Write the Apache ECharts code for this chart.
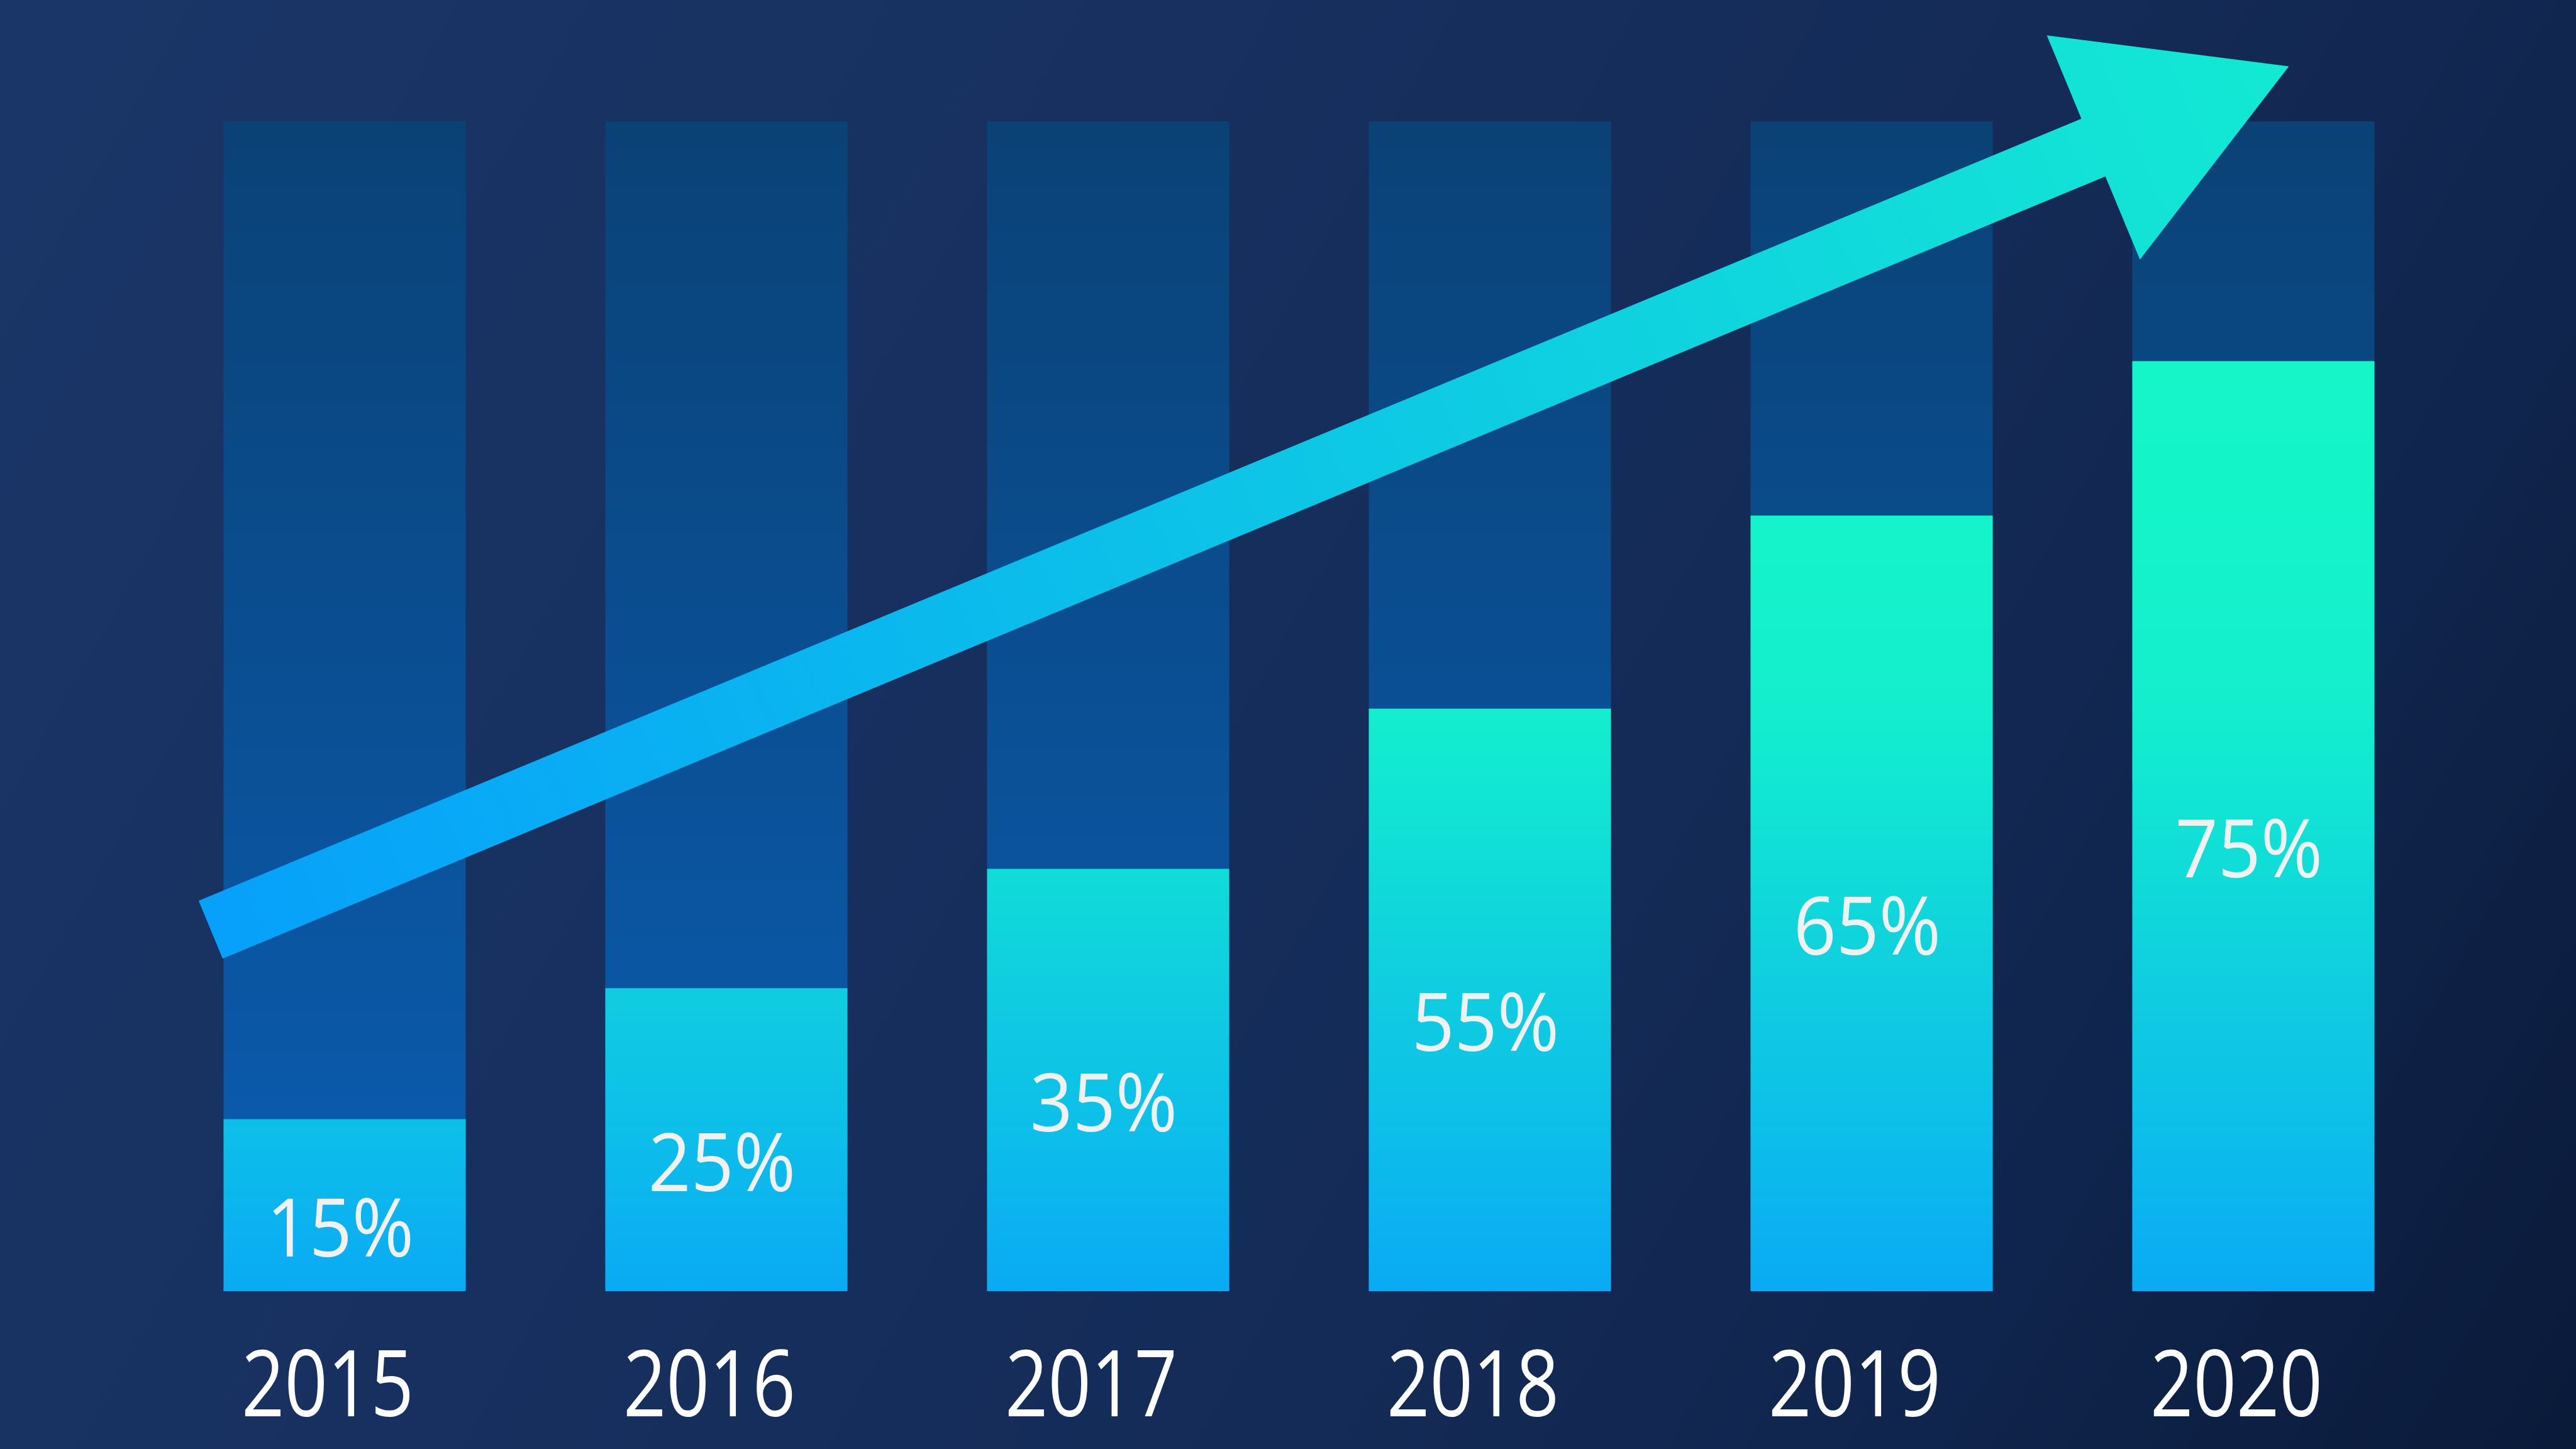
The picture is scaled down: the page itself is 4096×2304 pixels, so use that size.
<!DOCTYPE html>
<html><head><meta charset="utf-8">
<script src="https://cdn.jsdelivr.net/npm/echarts@6/dist/echarts.min.js"></script>
<style>html,body{margin:0;padding:0;overflow:hidden;background:#17305f}#c{width:4096px;height:2304px}</style>
</head><body><div id="c"></div>
<script>
// ---- data ----
const years = ['2015', '2016', '2017', '2018', '2019', '2020'];
const barValues = [14.7, 25.9, 36.1, 49.8, 66.3, 79.5];      // filled height of each bar (axis 0..100)
const valueLabels = ['15%', '25%', '35%', '55%', '65%', '75%']; // printed labels
const arrowStart = [-0.351, 30.9];   // [category position, value] of arrow tail centre
const arrowEnd = [5.093, 104.7];     // [category position, value] of arrow tip

const chart = echarts.init(document.getElementById('c'), null, { renderer: 'canvas', width: 4096, height: 2304 });
const LG = echarts.graphic.LinearGradient;
const FONT = '"Open Sans", "Noto Sans", sans-serif';

const option = {
  animation: false,
  backgroundColor: {
    type: 'linear', x: 0, y: 0, x2: 1, y2: 1,
    colorStops: [
      { offset: 0, color: '#1a3668' },
      { offset: 0.35, color: '#17305f' },
      { offset: 0.62, color: '#142b57' },
      { offset: 0.8, color: '#10254d' },
      { offset: 1, color: '#0a1a39' }
    ]
  },
  grid: { left: 244.5, width: 3642, top: 192.9, height: 1860.1 },
  xAxis: [
    {
      type: 'category', data: years,
      axisLine: { show: false }, axisTick: { show: false }, splitLine: { show: false },
      axisLabel: { show: false }
    },
    { type: 'value', min: -0.5, max: 5.5, show: false }
  ],
  yAxis: { type: 'value', min: 0, max: 100, show: false, splitLine: { show: false } },
  series: [
    {
      type: 'bar', data: barValues, barWidth: 385, z: 2,
      showBackground: true,
      backgroundStyle: {
        color: new LG(0, 0, 0, 1, [
          { offset: 0, color: '#0a4276' },
          { offset: 1, color: '#0b5db3' }
        ])
      },
      itemStyle: {
        color: new LG(0, 574, 0, 2053, [
          { offset: 0, color: '#14f5c8' },
          { offset: 0.17, color: '#14f4ca' },
          { offset: 0.37, color: '#14eecd' },
          { offset: 0.44, color: '#12e8d2' },
          { offset: 0.55, color: '#10dcd8' },
          { offset: 0.675, color: '#10cde0' },
          { offset: 0.815, color: '#0dc0e8' },
          { offset: 1, color: '#0aaaf4' }
        ], true)
      }
    },
    {
      // percentage labels inside the bars
      type: 'custom', xAxisIndex: 0, yAxisIndex: 0, clip: false, z: 4,
      data: barValues.map((v, i) => [i, v]),
      renderItem: function (params, api) {
        const p = api.coord([api.value(0), api.value(1) / 2]);
        return {
          type: 'text', x: p[0] - 7, y: p[1] + 45, scaleX: 0.93,
          style: {
            text: valueLabels[params.dataIndex], fill: '#f1f1f1',
            font: '128px ' + FONT, align: 'center', verticalAlign: 'middle'
          }
        };
      }
    },
    {
      // category (year) labels under the bars
      type: 'custom', xAxisIndex: 0, yAxisIndex: 0, clip: false, z: 4,
      data: years.map((y, i) => [i, 0]),
      renderItem: function (params, api) {
        const p = api.coord([api.value(0), 0]);
        return {
          type: 'text', x: p[0] - 27, y: p[1] + 157, scaleX: 0.82,
          style: {
            text: years[params.dataIndex], fill: '#ffffff',
            font: '146px ' + FONT, align: 'center', verticalAlign: 'middle'
          }
        };
      }
    },
    {
      type: 'custom', xAxisIndex: 1, yAxisIndex: 0, clip: false, z: 5,
      data: [[arrowStart[0], arrowStart[1], arrowEnd[0], arrowEnd[1]]],
      renderItem: function (params, api) {
        const T = api.coord([api.value(0), api.value(1)]);
        const P = api.coord([api.value(2), api.value(3)]);
        const dx = P[0] - T[0], dy = P[1] - T[1], len = Math.hypot(dx, dy);
        const ux = dx / len, uy = dy / len, nx = -uy, ny = ux;
        const L = 336.6, hw = 49.7, HW = 193;
        const Bx = P[0] - ux * L, By = P[1] - uy * L;
        const pts = [
          [T[0] + nx * hw, T[1] + ny * hw],
          [Bx + nx * hw, By + ny * hw],
          [Bx + nx * HW, By + ny * HW],
          [P[0], P[1]],
          [Bx - nx * HW, By - ny * HW],
          [Bx - nx * hw, By - ny * hw],
          [T[0] - nx * hw, T[1] - ny * hw]
        ];
        return {
          type: 'polygon', shape: { points: pts },
          style: {
            fill: new LG(T[0], T[1], P[0], P[1], [
              { offset: 0, color: '#07a0fb' },
              { offset: 1, color: '#13e9d3' }
            ], true)
          }
        };
      }
    }
  ]
};
chart.setOption(option);
</script>
</body></html>
